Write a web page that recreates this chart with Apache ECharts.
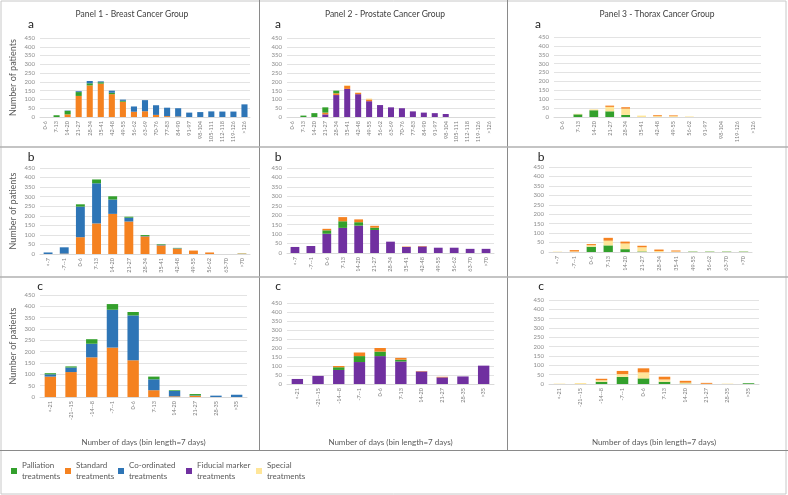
<!DOCTYPE html>
<html lang="en">
<head>
<meta charset="UTF-8">
<title>Days to treatment by cancer group</title>
<style>
  html, body { margin: 0; padding: 0; background: #fff; }
  #main { width: 788px; height: 495px; }
</style>
</head>
<body>
<div id="main"></div>
<script src="https://cdn.jsdelivr.net/npm/echarts@6/dist/echarts.min.js"></script>
<script>
// categories (day bins)
var daysA = ['0-6', '7-13', '14-20', '21-27', '28-34', '35-41', '42-48', '49-55', '56-62', '63-69', '70-76', '77-83', '84-90', '91-97', '98-104', '105-111', '112-118', '119-126', '>126'];
var daysA3 = ['0-6', '7-13', '14-20', '21-27', '28-34', '35-41', '42-48', '49-55', '56-62', '91-97', '98-104', '119-126', '>126'];
var daysB = ['<-7', '-7--1', '0-6', '7-13', '14-20', '21-27', '28-34', '35-41', '42-48', '49-55', '56-62', '63-70', '>70'];
var daysB3 = ['<-7', '-7--1', '0-6', '7-13', '14-20', '21-27', '28-34', '35-41', '49-55', '56-62', '63-70', '>70'];
var daysC = ['<-21', '-21--15', '-14--8', '-7--1', '0-6', '7-13', '14-20', '21-27', '28-35', '>35'];

// panel 1 - breast
var breastA_standard    = [0, 0, 15, 120, 180, 190, 130, 87, 30, 33, 12, 5, 3, 0, 0, 0, 0, 0, 0];
var breastA_palliation  = [0, 10, 20, 22, 12, 8, 8, 5, 0, 0, 0, 0, 0, 0, 0, 0, 0, 0, 0];
var breastA_coordinated = [0, 0, 2, 5, 13, 5, 12, 7, 30, 63, 55, 48, 47, 25, 28, 32, 31, 31, 72];

var breastB_standard    = [0, 2, 88, 160, 210, 170, 92, 45, 28, 18, 8, 0, 2];
var breastB_coordinated = [8, 33, 160, 210, 75, 20, 2, 3, 2, 0, 0, 0, 0];
var breastB_palliation  = [0, 0, 12, 20, 17, 5, 5, 3, 2, 0, 0, 0, 1];

var breastC_standard    = [90, 110, 175, 218, 162, 30, 3, 5, 0, 0];
var breastC_coordinated = [10, 20, 60, 167, 198, 48, 24, 2, 6, 10];
var breastC_palliation  = [5, 5, 20, 25, 15, 12, 3, 6, 0, 0];

// panel 2 - prostate
var prostateA_fiducial   = [0, 0, 0, 15, 125, 160, 130, 90, 68, 55, 50, 32, 25, 22, 17, 0, 0, 0, 0];
var prostateA_standard   = [0, 0, 0, 10, 10, 18, 8, 10, 0, 0, 0, 0, 0, 0, 0, 0, 0, 0, 0];
var prostateA_palliation = [0, 8, 22, 30, 15, 0, 0, 0, 0, 0, 0, 0, 0, 0, 0, 0, 0, 0, 0];
var prostateA_special    = [0, 0, 0, 0, 0, 3, 2, 5, 0, 0, 0, 0, 0, 0, 0, 0, 0, 0, 0];

var prostateB_fiducial   = [32, 37, 102, 133, 145, 122, 60, 32, 35, 28, 28, 22, 22];
var prostateB_palliation = [0, 0, 18, 35, 18, 12, 0, 0, 0, 0, 0, 0, 0];
var prostateB_standard   = [0, 0, 8, 22, 15, 10, 0, 2, 2, 0, 0, 0, 0];

var prostateC_fiducial   = [28, 45, 78, 122, 155, 125, 70, 37, 42, 102];
var prostateC_palliation = [0, 0, 15, 33, 25, 10, 0, 0, 0, 0];
var prostateC_standard   = [0, 0, 7, 20, 20, 10, 2, 3, 0, 0];

// panel 3 - thorax
var thoraxA_palliation = [0, 15, 38, 32, 12, 0, 0, 0, 0, 0, 0, 0, 0];
var thoraxA_special    = [0, 3, 5, 25, 35, 8, 5, 5, 3, 0, 0, 0, 0];
var thoraxA_standard   = [0, 0, 0, 7, 8, 0, 5, 4, 0, 0, 0, 0, 0];

var thoraxB_palliation = [0, 0, 28, 35, 15, 3, 0, 0, 2, 2, 2, 2];
var thoraxB_special    = [2, 3, 8, 25, 30, 22, 5, 3, 1, 1, 1, 1];
var thoraxB_standard   = [0, 7, 6, 15, 10, 8, 8, 5, 0, 0, 0, 0];

var thoraxC_palliation = [0, 0, 12, 38, 30, 12, 2, 0, 0, 4];
var thoraxC_special    = [2, 5, 8, 15, 32, 12, 5, 1, 2, 0];
var thoraxC_standard   = [0, 0, 8, 17, 22, 15, 10, 5, 0, 0];

var yTicks = { min: 0, max: 450, step: 50 };

var PAL = 'Palliation treatments', STD = 'Standard treatments', COO = 'Co-ordinated treatments',
    FID = 'Fiducial marker treatments', SPE = 'Special treatments';

var colors = {};
colors[PAL] = '#33a02c';
colors[STD] = '#f58220';
colors[COO] = '#2e75b6';
colors[FID] = '#7030a0';
colors[SPE] = '#ffe699';

var panels = [
    {grid: {left: 40, top: 38, width: 210, height: 79}, cats: daysA, yName: true,
        s: [[STD, breastA_standard], [PAL, breastA_palliation], [COO, breastA_coordinated]]},
    {grid: {left: 287, top: 38, width: 208, height: 79}, cats: daysA,
        s: [[FID, prostateA_fiducial], [STD, prostateA_standard], [PAL, prostateA_palliation], [SPE, prostateA_special]]},
    {grid: {left: 554, top: 37, width: 207, height: 80}, cats: daysA3,
        s: [[PAL, thoraxA_palliation], [SPE, thoraxA_special], [STD, thoraxA_standard]]},
    {grid: {left: 40, top: 168, width: 210, height: 86}, cats: daysB, yName: true,
        s: [[STD, breastB_standard], [COO, breastB_coordinated], [PAL, breastB_palliation]]},
    {grid: {left: 287, top: 168, width: 207, height: 85}, cats: daysB,
        s: [[FID, prostateB_fiducial], [PAL, prostateB_palliation], [STD, prostateB_standard]]},
    {grid: {left: 549, top: 167, width: 203, height: 85}, cats: daysB3,
        s: [[PAL, thoraxB_palliation], [SPE, thoraxB_special], [STD, thoraxB_standard]]},
    {grid: {left: 40, top: 295, width: 207, height: 102}, cats: daysC, yName: true, xName: 41,
        s: [[STD, breastC_standard], [COO, breastC_coordinated], [PAL, breastC_palliation]]},
    {grid: {left: 287, top: 303, width: 207, height: 81}, cats: daysC, xName: 54,
        s: [[FID, prostateC_fiducial], [PAL, prostateC_palliation], [STD, prostateC_standard]]},
    {grid: {left: 549, top: 300, width: 210, height: 84}, cats: daysC, xName: 54,
        s: [[PAL, thoraxC_palliation], [SPE, thoraxC_special], [STD, thoraxC_standard]]}
];

var font = 'Lato, "Noto Sans", sans-serif';
var grids = [], xAxes = [], yAxes = [], series = [];

panels.forEach(function (p, i) {
    grids.push(p.grid);
    xAxes.push({
        type: 'category',
        gridIndex: i,
        data: p.cats,
        name: p.xName ? 'Number of days (bin length=7 days)' : '',
        nameLocation: 'middle',
        nameGap: p.xName || 0,
        nameTextStyle: {fontSize: 8, color: '#595959', fontFamily: font},
        axisTick: {show: false},
        axisLine: {lineStyle: {color: '#d9d9d9'}},
        axisLabel: {rotate: 90, interval: 0, fontSize: 5.5, color: '#7f7f7f', margin: 4, fontFamily: font}
    });
    yAxes.push({
        type: 'value',
        gridIndex: i,
        min: yTicks.min,
        max: yTicks.max,
        interval: yTicks.step,
        name: p.yName ? 'Number of patients' : '',
        nameLocation: 'middle',
        nameRotate: 90,
        nameGap: 22,
        nameTextStyle: {fontSize: 9, color: '#595959', fontFamily: font},
        axisLine: {show: false},
        axisTick: {show: false},
        axisLabel: {fontSize: 6, color: '#8c8c8c', margin: 5, fontFamily: font},
        splitLine: {lineStyle: {color: '#e3e3e3'}}
    });
    p.s.forEach(function (s) {
        series.push({
            name: s[0],
            type: 'bar',
            xAxisIndex: i,
            yAxisIndex: i,
            stack: 'panel' + i,
            barCategoryGap: '45%',
            itemStyle: {color: colors[s[0]]},
            data: s[1]
        });
    });
});

// legend: one component per item so each sits where the original puts it
var legendItems = [[PAL, 6], [STD, 60], [COO, 113], [FID, 181], [SPE, 251]];
var legends = legendItems.map(function (it) {
    return {
        data: [it[0]],
        left: it[1],
        top: 455,
        icon: 'rect',
        itemWidth: 6,
        itemHeight: 6,
        itemGap: 4,
        selectedMode: false,
        formatter: function (n) { return n.replace(' treatments', '\ntreatments'); },
        textStyle: {fontSize: 8, color: '#595959', fontFamily: font, lineHeight: 11}
    };
});

function txt(x, y, s, size, color) {
    return {type: 'text', x: x, y: y, silent: true,
        style: {text: s, fontSize: size, fill: color, fontFamily: font, align: 'center', verticalAlign: 'middle'}};
}
function line(x1, y1, x2, y2, c, w) {
    return {type: 'line', silent: true, shape: {x1: x1, y1: y1, x2: x2, y2: y2},
        style: {stroke: c, lineWidth: w}};
}

var graphics = [
    {type: 'rect', silent: true, shape: {x: 1, y: 1, width: 785, height: 493}, style: {fill: 'none', stroke: '#c8c8c8', lineWidth: 1}},
    line(259.5, 0, 259.5, 450, '#8a8a8a', 1),
    line(507.5, 0, 507.5, 450, '#8a8a8a', 1),
    line(0, 147, 788, 147, '#b0b0b0', 1.5),
    line(0, 277, 788, 277, '#b0b0b0', 1.5),
    line(0, 450.5, 788, 450.5, '#8a8a8a', 1),
    txt(132, 14, 'Panel 1 - Breast Cancer Group', 8.5, '#404040'),
    txt(385, 14, 'Panel 2 - Prostate Cancer Group', 8.5, '#404040'),
    txt(657, 14, 'Panel 3 - Thorax Cancer Group', 8.5, '#404040'),
    txt(31, 24, 'a', 12, '#222'), txt(278, 24, 'a', 12, '#222'), txt(538, 24, 'a', 12, '#222'),
    txt(31, 157, 'b', 12, '#222'), txt(278, 157, 'b', 12, '#222'), txt(541, 157, 'b', 12, '#222'),
    txt(40, 286, 'c', 12, '#222'), txt(278, 286, 'c', 12, '#222'), txt(541, 286, 'c', 12, '#222')
];

var chart = echarts.init(document.getElementById('main'));
chart.setOption({
    animation: false,
    backgroundColor: '#ffffff',
    grid: grids,
    xAxis: xAxes,
    yAxis: yAxes,
    legend: legends,
    graphic: graphics,
    series: series
});
</script>
</body>
</html>
